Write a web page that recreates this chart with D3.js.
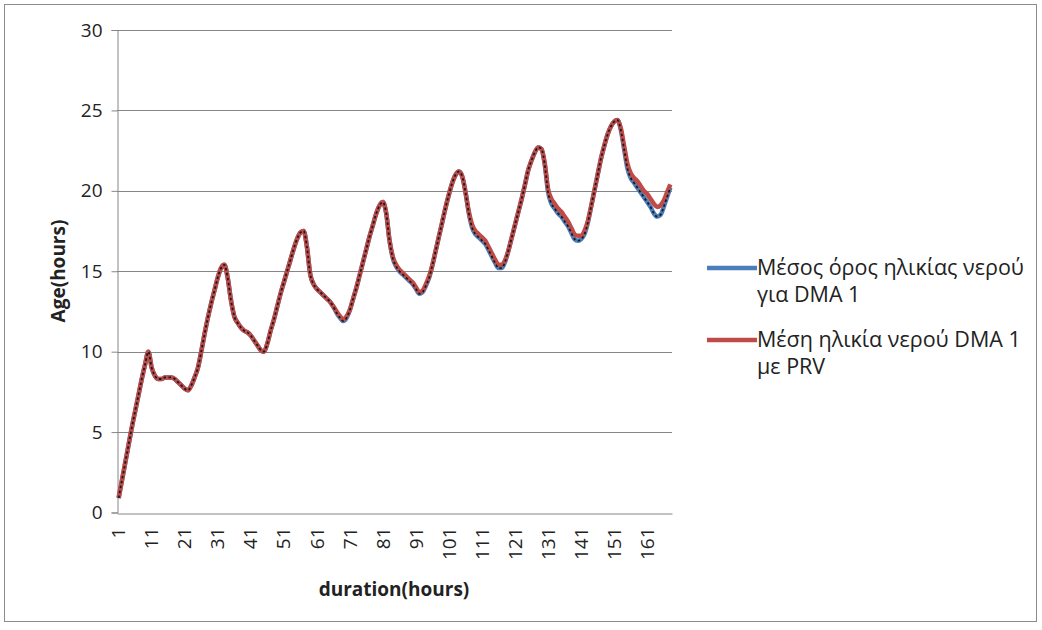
<!DOCTYPE html>
<html>
<head>
<meta charset="utf-8">
<script src="https://cdn.jsdelivr.net/npm/d3@7"></script>
<style>
  body { margin: 0; background: #fff; }
  svg { display: block; font-family: 'Open Sans', sans-serif; }
</style>
</head>
<body>
<div id="chart"></div>
<script>
// hourly values (hours 1..168)
const hours = d3.range(1, 169);
const tickHours = [1, 11, 21, 31, 41, 51, 61, 71, 81, 91, 101, 111, 121, 131, 141, 151, 161];
const yTicks = [0, 5, 10, 15, 20, 25, 30];

const meanAge = [
  0.9, 2.0, 3.1, 4.2, 5.3, 6.3, 7.3, 8.3, 9.2, 10.0,
  9.0, 8.5, 8.3, 8.3, 8.4, 8.4, 8.4, 8.3, 8.1, 7.9,
  7.7, 7.6, 7.9, 8.4, 9.0, 10.0, 11.1, 12.1, 13.0, 13.8,
  14.6, 15.2, 15.4, 14.6, 13.2, 12.2, 11.8, 11.5, 11.3, 11.2,
  11.0, 10.7, 10.4, 10.1, 10.0, 10.5, 11.3, 12.0, 12.8, 13.6,
  14.3, 15.0, 15.7, 16.4, 17.0, 17.4, 17.5, 16.5, 14.8, 14.2,
  13.9, 13.7, 13.5, 13.3, 13.1, 12.8, 12.4, 12.1, 11.9, 12.1,
  12.6, 13.3, 14.0, 14.8, 15.6, 16.4, 17.2, 17.9, 18.6, 19.1,
  19.3, 18.6, 16.9, 15.8, 15.3, 15.0, 14.8, 14.6, 14.4, 14.2,
  13.9, 13.6, 13.7, 14.1, 14.6, 15.4, 16.3, 17.2, 18.1, 19.0,
  19.8, 20.5, 21.0, 21.2, 20.9, 19.9, 18.6, 17.7, 17.3, 17.1,
  16.9, 16.7, 16.3, 15.9, 15.5, 15.2, 15.2, 15.6, 16.3, 17.1,
  17.9, 18.7, 19.5, 20.4, 21.3, 21.9, 22.4, 22.7, 22.6, 21.6,
  19.9, 19.2, 18.9, 18.6, 18.4, 18.1, 17.8, 17.4, 17.0, 16.9,
  17.0, 17.3, 18.0, 19.0, 20.0, 21.0, 22.0, 22.8, 23.5, 24.0,
  24.3, 24.4, 23.8, 22.6, 21.4, 20.8, 20.5, 20.2, 19.9, 19.6,
  19.3, 19.0, 18.6, 18.4, 18.5, 19.0, 19.6, 20.2
];

const meanAgePrv = [
  0.9, 2.0, 3.1, 4.2, 5.3, 6.3, 7.3, 8.3, 9.2, 10.0,
  9.0, 8.5, 8.3, 8.3, 8.4, 8.4, 8.4, 8.3, 8.1, 7.9,
  7.7, 7.6, 7.9, 8.4, 9.0, 10.0, 11.1, 12.1, 13.0, 13.8,
  14.6, 15.2, 15.4, 14.6, 13.2, 12.2, 11.8, 11.5, 11.3, 11.2,
  11.0, 10.7, 10.4, 10.1, 10.0, 10.5, 11.3, 12.0, 12.8, 13.6,
  14.3, 15.0, 15.7, 16.4, 17.0, 17.4, 17.5, 16.5, 14.8, 14.2,
  13.9, 13.7, 13.5, 13.3, 13.1, 12.8, 12.5, 12.2, 12.0, 12.2,
  12.6, 13.3, 14.0, 14.8, 15.6, 16.4, 17.2, 17.9, 18.6, 19.1,
  19.3, 18.6, 16.9, 15.9, 15.4, 15.1, 14.9, 14.7, 14.5, 14.3,
  14.0, 13.7, 13.8, 14.2, 14.7, 15.4, 16.3, 17.2, 18.1, 19.0,
  19.8, 20.5, 21.0, 21.2, 20.9, 19.9, 18.7, 17.9, 17.5, 17.3,
  17.1, 16.9, 16.5, 16.1, 15.7, 15.4, 15.4, 15.7, 16.3, 17.1,
  17.9, 18.7, 19.5, 20.4, 21.3, 21.9, 22.4, 22.7, 22.6, 21.7,
  20.1, 19.5, 19.2, 18.9, 18.7, 18.4, 18.1, 17.7, 17.3, 17.2,
  17.2, 17.5, 18.1, 19.0, 20.0, 21.0, 22.0, 22.8, 23.5, 24.0,
  24.3, 24.4, 23.9, 22.8, 21.7, 21.1, 20.8, 20.6, 20.3, 20.0,
  19.8, 19.5, 19.2, 19.0, 19.1, 19.4, 19.9, 20.4
];

const legendLabels = [
  ['Μέσος όρος ηλικίας νερού', 'για DMA 1'],
  ['Μέση ηλικία νερού DMA 1', 'με PRV']
];
const seriesColors = ['#4a7ebb', '#be4b48'];

const width = 1042;
const height = 630;
const plot = { left: 117, right: 672, top: 30, bottom: 512.5 };

const svg = d3.select('#chart')
  .append('svg')
  .attr('width', width)
  .attr('height', height);

svg.append('rect')
  .attr('width', width)
  .attr('height', height)
  .attr('fill', '#fff');

// outer frame
svg.append('rect')
  .attr('x', 4.5)
  .attr('y', 4.5)
  .attr('width', 1032)
  .attr('height', 617)
  .attr('fill', 'none')
  .attr('stroke', '#8c8c8c');

const x = d3.scaleBand()
  .domain(hours)
  .range([plot.left, plot.right])
  .padding(0);

const y = d3.scaleLinear()
  .domain([0, 30])
  .range([plot.bottom, plot.top]);

const cx = d => x(d) + x.bandwidth() / 2;

// gridlines
svg.append('g')
  .selectAll('line')
  .data(yTicks.filter(d => d > 0))
  .join('line')
  .attr('x1', plot.left)
  .attr('x2', plot.right)
  .attr('y1', d => Math.round(y(d)) + 0.5)
  .attr('y2', d => Math.round(y(d)) + 0.5)
  .attr('stroke', '#868686')
  .attr('stroke-width', 1);

// y axis
const yAxis = svg.append('g')
  .attr('transform', `translate(${plot.left + 0.5},0)`)
  .call(d3.axisLeft(y).tickValues(yTicks).tickSize(6).tickPadding(9)
    .tickFormat(d3.format('d')));
yAxis.select('.domain').attr('stroke', '#868686');
yAxis.selectAll('.tick line').attr('stroke', '#868686');
yAxis.selectAll('.tick text')
  .attr('fill', '#222')
  .style('font-size', '19px')
  .style('font-family', "'Open Sans', sans-serif");

// x axis
const xAxis = svg.append('g')
  .attr('transform', `translate(0,${Math.round(plot.bottom) + 0.5})`)
  .call(d3.axisBottom(x).tickValues(tickHours).tickSize(0).tickPadding(0));
xAxis.select('.domain').attr('stroke', '#868686');
xAxis.selectAll('.tick text')
  .attr('fill', '#222')
  .attr('transform', 'rotate(-90)')
  .attr('text-anchor', 'end')
  .attr('x', -14)
  .attr('y', 0)
  .attr('dy', '0.35em')
  .style('font-size', '19px')
  .style('font-family', "'Open Sans', sans-serif");

// lines
const line = d3.line()
  .x((d, i) => cx(hours[i]))
  .y(d => y(d))
  .curve(d3.curveMonotoneX);

svg.append('path')
  .datum(meanAge)
  .attr('d', line)
  .attr('fill', 'none')
  .attr('stroke', seriesColors[0])
  .attr('stroke-width', 4.5)
  .attr('stroke-linejoin', 'round');

svg.append('path')
  .datum(meanAgePrv)
  .attr('d', line)
  .attr('fill', 'none')
  .attr('stroke', seriesColors[1])
  .attr('stroke-width', 4.5)
  .attr('stroke-linejoin', 'round');

svg.append('path')
  .datum(meanAge)
  .attr('d', line)
  .attr('fill', 'none')
  .attr('stroke', '#1a1a1a')
  .attr('stroke-width', 1.8)
  .attr('stroke-dasharray', '2.5,2.5');

// axis titles
svg.append('text')
  .text('duration(hours)')
  .attr('x', 394)
  .attr('y', 596)
  .attr('text-anchor', 'middle')
  .style('font-size', '19px')
  .style('font-weight', 'bold')
  .attr('fill', '#222');

svg.append('text')
  .text('Age(hours)')
  .attr('transform', 'translate(65,271) rotate(-90)')
  .attr('text-anchor', 'middle')
  .style('font-size', '19px')
  .style('font-weight', 'bold')
  .attr('fill', '#222');

// legend
const legend = svg.append('g');
legendLabels.forEach((lines, i) => {
  const top = 268 + i * 72;
  legend.append('line')
    .attr('x1', 707)
    .attr('x2', 757)
    .attr('y1', top)
    .attr('y2', top)
    .attr('stroke', seriesColors[i])
    .attr('stroke-width', 4.5);
  const t = legend.append('text')
    .attr('x', 757)
    .attr('y', top + 7)
    .style('font-size', '21.5px')
    .attr('fill', '#222');
  lines.forEach((s, j) => {
    t.append('tspan')
      .attr('x', 757)
      .attr('dy', j === 0 ? 0 : 27)
      .text(s);
  });
});
</script>
</body>
</html>
